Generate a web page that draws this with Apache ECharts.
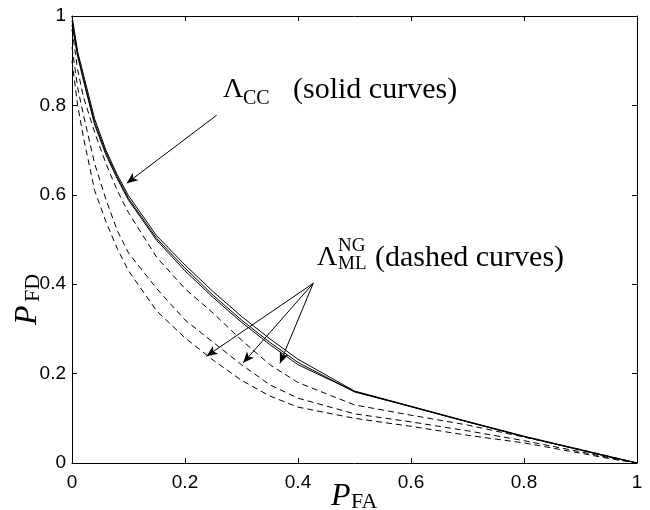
<!DOCTYPE html>
<html>
<head>
<meta charset="utf-8">
<script src="https://cdn.jsdelivr.net/npm/echarts@6/dist/echarts.min.js"></script>
<style>html,body{margin:0;padding:0;background:#fff}#c{width:650px;height:510px}</style>
</head>
<body>
<div id="c"></div>
<script>
// P_FA grid
var pfa = [0, 0.01, 0.02, 0.04, 0.06, 0.08, 0.1, 0.15, 0.2, 0.25, 0.3, 0.35, 0.4, 0.5, 0.6, 0.7, 0.8, 0.9, 0.95, 1.0];
// Lambda_CC (solid curves), P_FD
var solid1 = [1.0, 0.92, 0.87, 0.77, 0.70, 0.645, 0.598, 0.508, 0.443, 0.383, 0.328, 0.278, 0.232, 0.161, 0.127, 0.093, 0.060, 0.030, 0.015, 0];
var solid2 = [0.99, 0.915, 0.862, 0.762, 0.695, 0.640, 0.592, 0.502, 0.436, 0.375, 0.320, 0.270, 0.225, 0.159, 0.126, 0.092, 0.059, 0.029, 0.014, 0];
var solid3 = [0.98, 0.91, 0.857, 0.757, 0.690, 0.636, 0.588, 0.498, 0.430, 0.370, 0.315, 0.265, 0.220, 0.160, 0.126, 0.092, 0.059, 0.029, 0.014, 0];
// Lambda_ML^NG (dashed curves), P_FD
var dashed1 = [0.97, 0.88, 0.82, 0.74, 0.67, 0.61, 0.56, 0.46, 0.39, 0.335, 0.275, 0.22, 0.18, 0.13, 0.107, 0.085, 0.058, 0.030, 0.015, 0];
var dashed2 = [0.93, 0.84, 0.78, 0.67, 0.59, 0.52, 0.47, 0.39, 0.32, 0.27, 0.22, 0.175, 0.145, 0.11, 0.092, 0.072, 0.050, 0.025, 0.012, 0];
var dashed3 = [0.90, 0.80, 0.73, 0.61, 0.54, 0.48, 0.43, 0.34, 0.28, 0.23, 0.185, 0.15, 0.125, 0.10, 0.082, 0.062, 0.045, 0.022, 0.010, 0];
// annotation arrows (data coordinates)
var ccArrow = [[0.256, 0.778], [0.097, 0.626]];
var ngFrom = [0.427, 0.402];
var ngTips = [[0.238, 0.239], [0.303, 0.224], [0.368, 0.223]];

function pairs(ys){ return pfa.map(function(x,i){ return [x, ys[i]]; }); }

var chart = echarts.init(document.getElementById('c'), null, {renderer:'canvas'});
var axisCommon = {
  type:'value', min:0, max:1, interval:0.2,
  axisLine:{show:true, onZero:false, lineStyle:{color:'#000', width:1}},
  axisTick:{show:true, inside:true, length:5, lineStyle:{color:'#000', width:1}},
  splitLine:{show:false}
};
var labelStyle = {color:'#000', fontFamily:'Liberation Sans', fontSize:19};

var arrowLines = [[{coord:ccArrow[0], symbol:'none'},{coord:ccArrow[1], symbol:'arrow'}]];
ngTips.forEach(function(t){ arrowLines.push([{coord:ngFrom, symbol:'none'},{coord:t, symbol:'arrow'}]); });

function lineSeries(ys, dashed){
  return {type:'line', data:pairs(ys), showSymbol:false, symbol:'none', smooth:false,
    lineStyle:{color:'#000', width:1, type: dashed ? [6,4] : 'solid'}, silent:true};
}
var series = [lineSeries(solid1,false), lineSeries(solid2,false), lineSeries(solid3,false),
  lineSeries(dashed1,true), lineSeries(dashed2,true), lineSeries(dashed3,true)];
series[0].markLine = {silent:true, symbolSize:[7,11], label:{show:false},
  lineStyle:{color:'#000', width:1, type:'solid'}, data:arrowLines, animation:false};

var serif = 'Liberation Serif';
function txt(x,y,s,size,opts){
  opts = opts || {};
  return {type:'text', x:x, y:y, rotation: opts.rot || 0, silent:true,
    style:{text:s, fill:'#000', font:(opts.italic?'italic ':'')+size+'px "'+serif+'"', textAlign:'left', textVerticalAlign:'middle', verticalAlign:'middle'}};
}

chart.setOption({
  animation:false,
  grid:{left:72, right:13, top:16, bottom:47, containLabel:false},
  xAxis:[
    Object.assign({}, axisCommon, {position:'bottom', axisLabel:Object.assign({margin:10}, labelStyle)}),
    Object.assign({}, axisCommon, {position:'top', axisLabel:{show:false}})
  ],
  yAxis:[
    Object.assign({}, axisCommon, {position:'left', axisLabel:Object.assign({margin:6}, labelStyle)}),
    Object.assign({}, axisCommon, {position:'right', axisLabel:{show:false}})
  ],
  series:series,
  graphic:[
    txt(223, 90, '\u039B', 28),
    txt(243, 99, 'CC', 20),
    txt(293, 90, '(solid curves)', 30),
    txt(317, 258, '\u039B', 28),
    txt(338, 246, 'NG', 19),
    txt(338, 264, 'ML', 19),
    txt(375, 258, '(dashed curves)', 30),
    txt(331, 497, 'P', 32, {italic:true}),
    txt(351, 502, 'FA', 22),
    txt(28, 325, 'P', 32, {italic:true, rot:Math.PI/2}),
    txt(33, 302, 'FD', 22, {rot:Math.PI/2})
  ]
});
</script>
</body>
</html>
